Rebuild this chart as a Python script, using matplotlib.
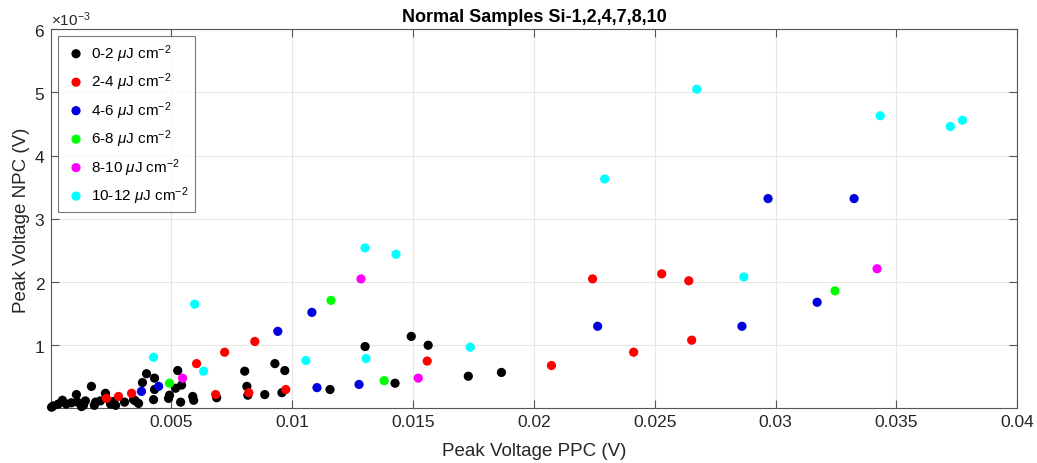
import numpy as np
import matplotlib
matplotlib.use('Agg')
import matplotlib.pyplot as plt
from matplotlib.ticker import ScalarFormatter

plt.rcParams['font.family'] = ['Liberation Sans', 'DejaVu Sans']
plt.rcParams['mathtext.fontset'] = 'custom'
plt.rcParams['mathtext.rm'] = 'Liberation Sans'
plt.rcParams['mathtext.it'] = 'Liberation Sans:italic'

# peak voltages (V), grouped by fluence
ppc_0_2 = [0.00005, 0.00012, 0.00033, 0.00050, 0.00066, 0.00087, 0.00108, 0.00112,
           0.00129, 0.00137, 0.00145, 0.00170, 0.00182, 0.00187, 0.00207, 0.00228,
           0.00249, 0.00261, 0.00270, 0.00307, 0.00344, 0.00352, 0.00365, 0.00381,
           0.00398, 0.00427, 0.00431, 0.00431, 0.00489, 0.00493, 0.00518, 0.00527,
           0.00539, 0.00543, 0.00589, 0.00593, 0.00688, 0.00804, 0.00813, 0.00817,
           0.00887, 0.00929, 0.00958, 0.00970, 0.01157, 0.01302, 0.01426, 0.01493,
           0.01563, 0.01729, 0.01866]
npc_0_2 = [0.02, 0.04, 0.07, 0.13, 0.07, 0.09, 0.22, 0.10,
           0.03, 0.05, 0.12, 0.35, 0.05, 0.10, 0.12, 0.24,
           0.07, 0.11, 0.05, 0.10, 0.14, 0.12, 0.08, 0.41,
           0.55, 0.14, 0.48, 0.30, 0.16, 0.21, 0.32, 0.60,
           0.10, 0.37, 0.19, 0.13, 0.17, 0.59, 0.35, 0.21,
           0.22, 0.71, 0.25, 0.60, 0.30, 0.98, 0.40, 1.14,
           1.00, 0.51, 0.57]

ppc_2_4 = [0.00232, 0.00282, 0.00336, 0.00605, 0.00684, 0.00721, 0.00821, 0.00846,
           0.00974, 0.01559, 0.02073, 0.02243, 0.02413, 0.02529, 0.02641, 0.02653]
npc_2_4 = [0.16, 0.19, 0.24, 0.71, 0.22, 0.89, 0.25, 1.06,
           0.30, 0.75, 0.68, 2.05, 0.89, 2.13, 2.02, 1.08]

ppc_4_6 = [0.00377, 0.00448, 0.00941, 0.01082, 0.01103, 0.01277, 0.02264, 0.02861,
           0.02969, 0.03172, 0.03325]
npc_4_6 = [0.27, 0.35, 1.22, 1.52, 0.33, 0.38, 1.30, 1.30,
           3.32, 1.68, 3.32]

ppc_6_8 = [0.00493, 0.01161, 0.01381, 0.03246]
npc_6_8 = [0.40, 1.71, 0.44, 1.86]

ppc_8_10 = [0.00547, 0.01285, 0.01522, 0.03420]
npc_8_10 = [0.48, 2.05, 0.48, 2.21]

ppc_10_12 = [0.00427, 0.00597, 0.00634, 0.01057, 0.01302, 0.01306, 0.01430, 0.01737,
             0.02293, 0.02674, 0.02869, 0.03433, 0.03723, 0.03773]
npc_10_12 = [0.81, 1.65, 0.59, 0.76, 2.54, 0.79, 2.44, 0.97,
             3.63, 5.05, 2.08, 4.63, 4.46, 4.56]

groups = [(ppc_0_2, npc_0_2, '0-2'), (ppc_2_4, npc_2_4, '2-4'),
          (ppc_4_6, npc_4_6, '4-6'), (ppc_6_8, npc_6_8, '6-8'),
          (ppc_8_10, npc_8_10, '8-10'), (ppc_10_12, npc_10_12, '10-12')]
colors = ['#000000', '#ff0000', '#0000dd', '#00ff00', '#ff00ff', '#00ffff']

fig = plt.figure(figsize=(10.37, 4.64), dpi=100)
ax = fig.add_axes([0.049, 0.1175, 0.932, 0.8175])

for (x, y, lab), c in zip(groups, colors):
    ax.scatter(x, np.array(y) * 1e-3, s=44, color=c, edgecolors='none',
               clip_on=False, zorder=3,
               label=lab + r' $\mu$J cm$^{-2}$')

ax.set_xlim(0.00002, 0.04)
ax.set_ylim(0.0000, 0.006)
ax.set_xticks(np.arange(0.005, 0.0401, 0.005))
ax.set_xticklabels(['0.005', '0.01', '0.015', '0.02', '0.025', '0.03', '0.035', '0.04'])
ax.set_yticks(np.arange(1, 7) * 1e-3)
fmt = ScalarFormatter(useMathText=True)
fmt.set_powerlimits((-3, -3))
ax.yaxis.set_major_formatter(fmt)
ax.yaxis.get_offset_text().set_fontsize(11)
ax.yaxis.get_offset_text().set_color('#262626')

ax.grid(True, color='#e6e6e6', linewidth=0.8, zorder=0)
ax.set_axisbelow(True)
for sp in ax.spines.values():
    sp.set_color('#555555')
    sp.set_linewidth(0.8)
ax.tick_params(direction='in', top=True, right=True, length=6, width=0.8,
               colors='#555555', labelcolor='#262626', labelsize=12.5, pad=4)

ax.set_xlabel('Peak Voltage PPC (V)', fontsize=13.5, color='#262626', labelpad=9)
ax.set_ylabel('Peak Voltage NPC (V)', fontsize=13.5, color='#262626', labelpad=3)
ax.set_title('Normal Samples Si-1,2,4,7,8,10', fontsize=13, fontweight='bold', pad=6)

leg = ax.legend(loc='upper left', fontsize=11, frameon=True, fancybox=False,
                edgecolor='#555555', borderpad=0.4, labelspacing=0.45,
                handletextpad=0.2, handlelength=1.6, borderaxespad=0.45,
                scatterpoints=1)
leg.get_frame().set_linewidth(0.8)

fig.savefig('out.png', dpi=100)
